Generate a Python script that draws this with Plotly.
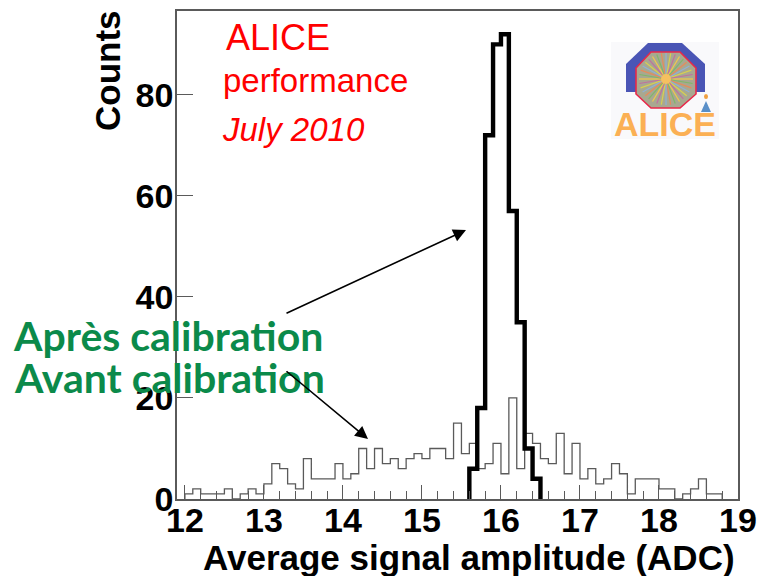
import math
import plotly.graph_objects as go

W, H = 758, 576
L, R, T, B = 177, 738, 11, 499

first_edge = 12.0
bin_width = 0.1
before_counts = [1,2,1,1,1,2,0,1,2,1,3,7,6,3,2,8,4,4,4,7,
                 4,5,10,6,10,7,8,6,8,9,8,10,10,8,15,9,11,6,7,11,
                 5,20,6,13,11,8,7,13,5,11,4,6,3,4,7,5,1,4,4,4,
                 2,2,0,1,2,4,1,1]
after_start_bin = 36
after_counts = [6,18,72,90,92,57,35,10,4]
x_ticks = [12,13,14,15,16,17,18,19]
y_ticks = [0,20,40,60,80]


def steps(start_bin, counts):
    edges = [first_edge + bin_width * (start_bin + i) for i in range(len(counts) + 1)]
    return [edges[0]] + edges, [0] + list(counts) + [0]


fig = go.Figure()
xa, ya = steps(0, before_counts)
fig.add_trace(go.Scatter(x=xa, y=ya, mode="lines", line=dict(shape="hv", color="#5a5a5a", width=1.3), showlegend=False))
xb, yb = steps(after_start_bin, after_counts)
fig.add_trace(go.Scatter(x=xb, y=yb, mode="lines", line=dict(shape="hv", color="#000000", width=4.4), showlegend=False))

annotations = []


def fx(x):
    return (x - L) / (R - L)


def fy(y):
    return (B - y) / (B - T)


def t(s, x, y, size, color, family="Liberation Sans", anchor="left", angle=0, bold=False, italic=False):
    if bold:
        s = f"<b>{s}</b>"
    if italic:
        s = f"<i>{s}</i>"
    annotations.append(dict(text=s, xref="paper", yref="paper", x=fx(x), y=fy(y), xanchor=anchor, yanchor="middle",
                            showarrow=False, textangle=angle, font=dict(size=size, color=color, family=family)))


t("ALICE", 224, 37, 36, "#ff0000")
t("performance", 221, 80, 33, "#ff0000")
t("July 2010", 220, 129, 33, "#ff0000", italic=True)
t("Counts", 107, 71, 35, "#000000", anchor="center", angle=-90, bold=True)
t("Average signal amplitude (ADC)", 469, 557, 35, "#000000", anchor="center", bold=True)
t("Après calibration", 11, 336, 41, "#0b8a4a", family="Lato", bold=True)
t("Avant calibration", 12, 377, 41, "#0b8a4a", family="Lato", bold=True)
t("ALICE", 665, 124, 34, "#fbb054", anchor="center", bold=True)

for (x0, y0, x1, y1) in [(285, 314, 466, 230), (285, 370, 368, 439)]:
    annotations.append(dict(xref="paper", yref="paper", x=fx(x1), y=fy(y1), ax=x0 - x1, ay=y0 - y1,
                            axref="pixel", ayref="pixel", text="", showarrow=True, arrowhead=2,
                            arrowsize=1.6, arrowwidth=1.6, arrowcolor="#000000"))


def poly(points):
    return "M" + " L".join(f"{fx(a):.5f},{fy(b):.5f}" for a, b in points) + " Z"


shapes = []
shapes.append(dict(type="rect", xref="paper", yref="paper", x0=fx(611), x1=fx(719), y0=fy(139), y1=fy(42),
                   line=dict(width=0), fillcolor="#f9f9fb", layer="below"))
shapes.append(dict(type="path", xref="paper", yref="paper", line=dict(width=0), fillcolor="#4a55b5",
                   path=poly([(648, 43), (682, 43), (705, 64), (705, 92), (626, 92), (626, 64)])))
shapes.append(dict(type="path", xref="paper", yref="paper", line=dict(color="#e8284a", width=1.6), fillcolor="#a8a890",
                   path=poly([(651, 52), (680, 52), (696, 68), (696, 94), (680, 108), (651, 108), (636, 94), (636, 68)])))
ray_colors = ["#f2c84b", "#7fb86a", "#e88a5a", "#8fb0d8", "#d8d050", "#c070a0"]
for i in range(36):
    ang = i * math.pi / 18
    shapes.append(dict(type="line", xref="paper", yref="paper", x0=fx(666), y0=fy(79),
                       x1=fx(666 + 27 * math.cos(ang)), y1=fy(79 + 26 * math.sin(ang)),
                       line=dict(color=ray_colors[i % 6], width=1.2)))
shapes.append(dict(type="circle", xref="paper", yref="paper", x0=fx(661), x1=fx(671), y0=fy(84), y1=fy(74),
                   line=dict(width=0), fillcolor="#f5c060"))
shapes.append(dict(type="path", xref="paper", yref="paper", line=dict(width=0), fillcolor="#5a8fc8",
                   path=poly([(706, 101), (711, 112), (701, 112)])))
shapes.append(dict(type="circle", xref="paper", yref="paper", x0=fx(704), x1=fx(708), y0=fy(99), y1=fy(94),
                   line=dict(width=0), fillcolor="#f0a040"))

tickfont = dict(size=34, color="#000000", family="Liberation Sans")
fig.update_layout(
    width=W, height=H, autosize=False, paper_bgcolor="white", plot_bgcolor="white",
    margin=dict(l=L, r=W - R, t=T, b=H - B),
    showlegend=False, annotations=annotations, shapes=shapes,
    xaxis=dict(range=[11.9, 19], tickvals=x_ticks, ticktext=[f"<b>{v}</b>" for v in x_ticks],
               ticks="inside", ticklen=14, tickwidth=1.3, tickcolor="#5a5a5a", ticklabelstandoff=-10,
               showgrid=False, zeroline=False, showline=True, linecolor="#5a5a5a", linewidth=1.5, mirror=True,
               tickfont=tickfont, tickangle=0, automargin=False,
               minor=dict(dtick=0.2, tick0=12, ticks="inside", ticklen=8, tickwidth=1.1, tickcolor="#5a5a5a")),
    yaxis=dict(range=[0, 96.6], tickvals=y_ticks, ticktext=[f"<b>{v}</b>" for v in y_ticks],
               ticks="inside", ticklen=16, tickwidth=1.3, tickcolor="#5a5a5a", automargin=False, ticklabelstandoff=-5,
               showgrid=False, zeroline=False, showline=True, linecolor="#5a5a5a", linewidth=1.5, mirror=True,
               tickfont=tickfont),
)
fig.write_html("out.html", default_width="758px", default_height="576px",
               config={"displayModeBar": False},
               post_script="document.body.style.margin='0';document.documentElement.style.overflow='hidden';")
